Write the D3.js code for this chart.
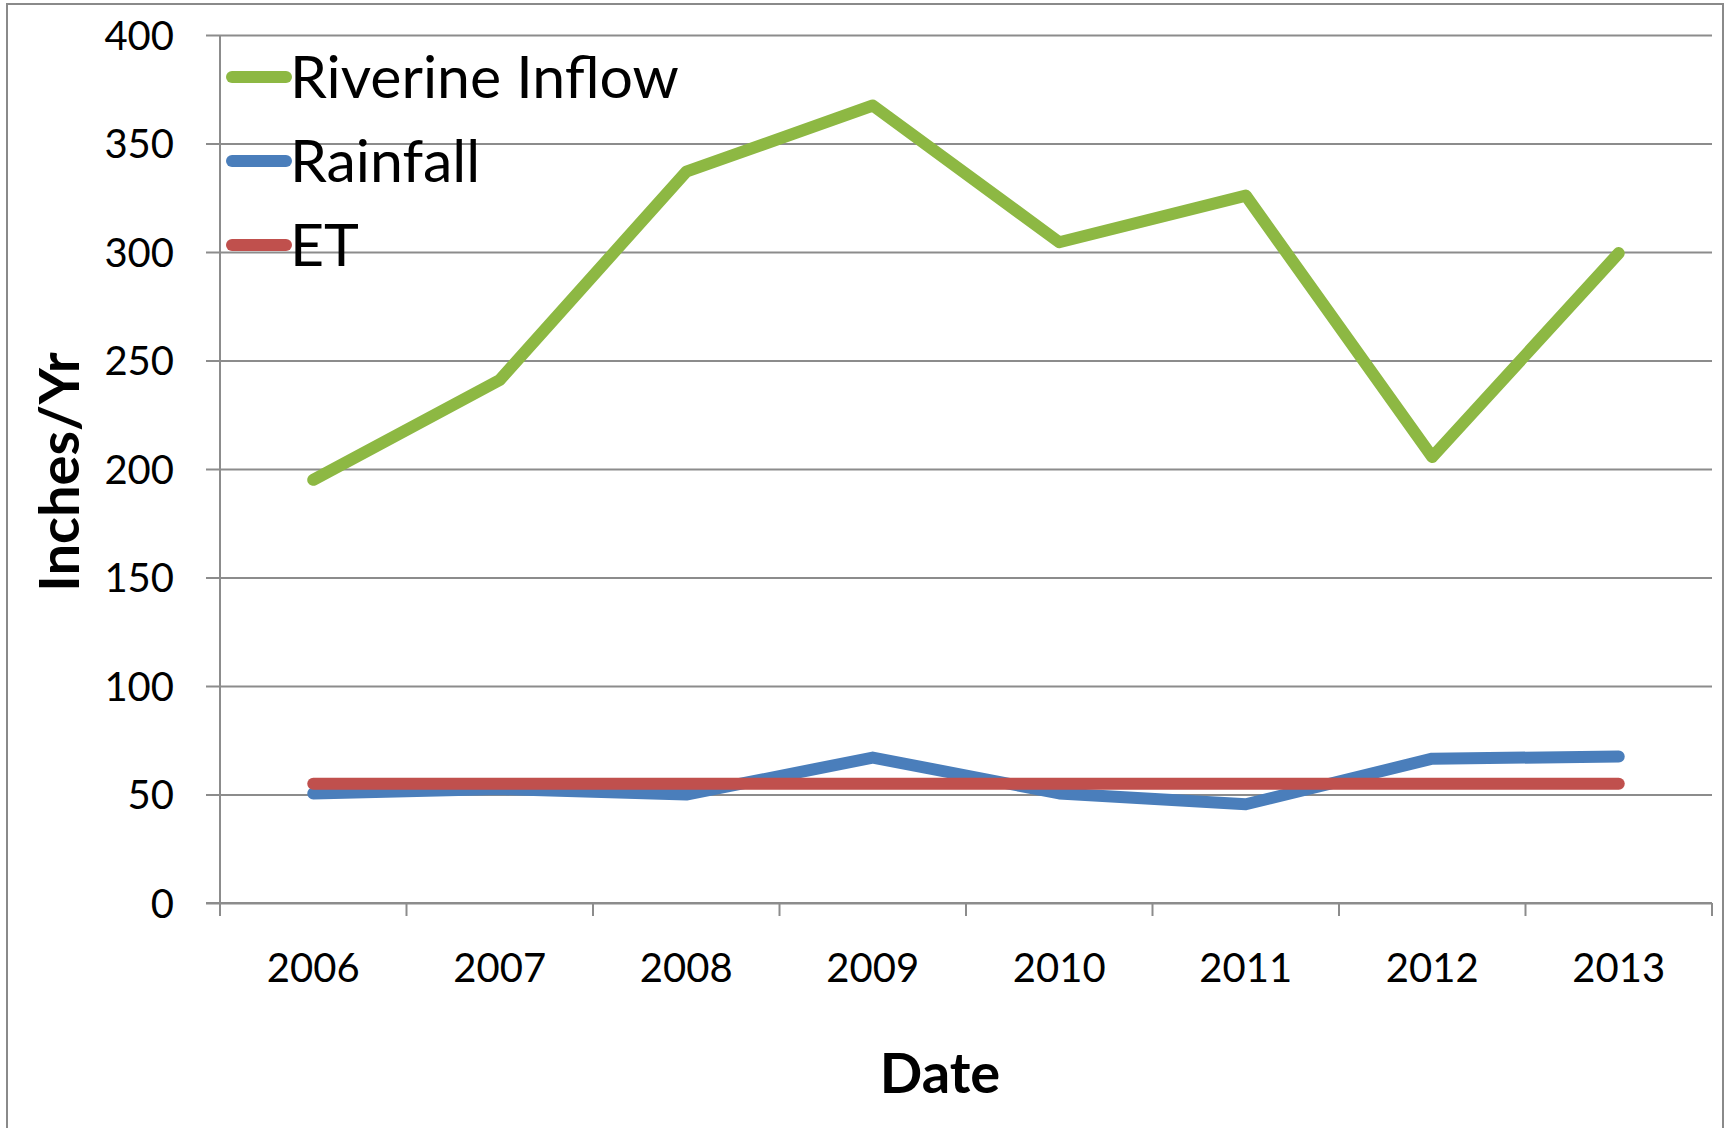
<!DOCTYPE html>
<html>
<head>
<meta charset="utf-8">
<script src="https://cdn.jsdelivr.net/npm/d3@7"></script>
<style>
  html, body { margin: 0; padding: 0; background: #ffffff; }
  svg { display: block; }
  text { font-family: Lato, "Open Sans", sans-serif; fill: #000; }
</style>
</head>
<body>
<svg id="chart" width="1731" height="1128"></svg>
<script>
// Annual water budget terms, inches per year
const years = ["2006", "2007", "2008", "2009", "2010", "2011", "2012", "2013"];
const riverineInflow = [195, 241, 337, 367.5, 304.5, 326, 205.5, 299.5];
const rainfall = [50.5, 52.5, 50, 67, 50.5, 45.5, 66.5, 67.5];
const et = [55, 55, 55, 55, 55, 55, 55, 55];
const yTicks = [0, 50, 100, 150, 200, 250, 300, 350, 400];

const seriesNames = ["Riverine Inflow", "Rainfall", "ET"];
const seriesColors = ["#8db843", "#4a7ebb", "#c0504d"];
const seriesValues = [riverineInflow, rainfall, et];

const svg = d3.select("#chart");
const plot = { left: 220, right: 1712, top: 35, bottom: 903 };

// chart-area frame
svg.append("rect")
  .attr("x", 7).attr("y", 4)
  .attr("width", 1716).attr("height", 1140)
  .attr("fill", "none").attr("stroke", "#8a8a8a").attr("stroke-width", 2);

const x = d3.scaleBand().domain(years).range([plot.left, plot.right]).padding(0);
const y = d3.scaleLinear().domain([0, 400]).range([plot.bottom, plot.top]);

// horizontal gridlines and value axis
const yAxis = d3.axisLeft(y)
  .tickValues(yTicks)
  .tickSize(-(plot.right - plot.left))
  .tickSizeOuter(0)
  .tickPadding(0);
const gy = svg.append("g").attr("transform", `translate(${plot.left},0)`).call(yAxis);
gy.select(".domain").remove();
gy.selectAll(".tick line")
  .attr("x1", -14)
  .attr("stroke", "#8c8c8c").attr("stroke-width", 2);
gy.selectAll(".tick text")
  .attr("x", -46)
  .attr("dy", "0.35em")
  .style("font-size", "40px")
  .style("font-family", "Lato, sans-serif")
  .attr("fill", "#000");

// vertical axis line
svg.append("line")
  .attr("x1", plot.left).attr("x2", plot.left)
  .attr("y1", plot.top).attr("y2", plot.bottom + 13)
  .attr("stroke", "#8c8c8c").attr("stroke-width", 2);

// category axis with boundary ticks
const boundaries = years.map(d => x(d)).concat([plot.right]);
const gx = svg.append("g");
gx.append("line")
  .attr("x1", plot.left - 14).attr("x2", plot.right)
  .attr("y1", plot.bottom).attr("y2", plot.bottom)
  .attr("stroke", "#8c8c8c").attr("stroke-width", 2);
gx.selectAll("line.tick").data(boundaries).join("line")
  .attr("class", "tick")
  .attr("x1", d => d).attr("x2", d => d)
  .attr("y1", plot.bottom).attr("y2", plot.bottom + 13)
  .attr("stroke", "#8c8c8c").attr("stroke-width", 2);
gx.selectAll("text").data(years).join("text")
  .attr("x", d => x(d) + x.bandwidth() / 2)
  .attr("y", 982)
  .attr("text-anchor", "middle")
  .style("font-size", "40px")
  .text(d => d);

// series lines
const line = d3.line()
  .x((d, i) => x(years[i]) + x.bandwidth() / 2)
  .y(d => y(d));

seriesValues.forEach((vals, k) => {
  svg.append("path")
    .datum(vals)
    .attr("d", line)
    .attr("fill", "none")
    .attr("stroke", seriesColors[k])
    .attr("stroke-width", 12)
    .attr("stroke-linejoin", "round")
    .attr("stroke-linecap", "round");
});

// legend
const legend = svg.append("g");
seriesNames.forEach((name, k) => {
  const ly = 77 + k * 84;
  legend.append("line")
    .attr("x1", 232).attr("x2", 286)
    .attr("y1", ly).attr("y2", ly)
    .attr("stroke", seriesColors[k])
    .attr("stroke-width", 12)
    .attr("stroke-linecap", "round");
  legend.append("text")
    .attr("x", 290).attr("y", ly + 21)
    .style("font-size", "59px")
    .text(name);
});

// axis titles
svg.append("text")
  .attr("transform", "translate(79,472) rotate(-90)")
  .attr("text-anchor", "middle")
  .style("font-size", "56px")
  .style("font-weight", "bold")
  .text("Inches/Yr");

svg.append("text")
  .attr("x", 940).attr("y", 1093)
  .attr("text-anchor", "middle")
  .style("font-size", "56px")
  .style("font-weight", "bold")
  .text("Date");
</script>
</body>
</html>
